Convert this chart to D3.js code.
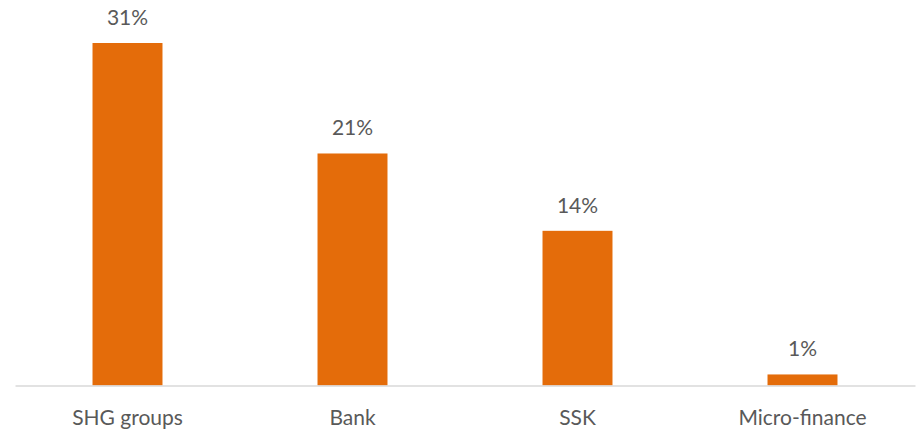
<!DOCTYPE html>
<html>
<head>
<meta charset="utf-8">
<script src="https://cdn.jsdelivr.net/npm/d3@7"></script>
<style>
  html, body { margin: 0; padding: 0; background: #ffffff; }
  svg { display: block; }
  text { font-family: Lato, "Open Sans", sans-serif; fill: #595959; }
</style>
</head>
<body>
<svg id="chart" width="916" height="433"></svg>
<script>
// Sources of credit: share of respondents
const categories = ["SHG groups", "Bank", "SSK", "Micro-finance"];
const shares = [31, 21, 14, 1];
const valueLabels = ["31%", "21%", "14%", "1%"];

const svg = d3.select("#chart");
const baseline = 385.5;
const fontSize = "21px";

const x = d3.scaleBand()
  .domain(categories)
  .range([15, 915])
  .paddingInner(0.689)
  .paddingOuter(0.3445);

const y = d3.scaleLinear()
  .domain([0, 31])
  .range([baseline, 43]);

// bars
svg.append("g")
  .selectAll("rect")
  .data(categories)
  .join("rect")
  .attr("x", d => x(d))
  .attr("width", x.bandwidth())
  .attr("y", (d, i) => y(shares[i]))
  .attr("height", (d, i) => baseline - y(shares[i]))
  .attr("fill", "#e46c0a");

// value labels
svg.append("g")
  .selectAll("text")
  .data(categories)
  .join("text")
  .attr("x", d => x(d) + x.bandwidth() / 2)
  .attr("y", (d, i) => y(shares[i]) - 18)
  .attr("text-anchor", "middle")
  .style("font-size", fontSize)
  .text((d, i) => valueLabels[i]);

// category axis
const axis = svg.append("g")
  .attr("transform", `translate(0,${baseline})`)
  .call(d3.axisBottom(x).tickSize(0).tickPadding(25));
axis.select(".domain").attr("stroke", "#d9d9d9").attr("stroke-width", 1.5);
axis.selectAll("text")
  .style("font-size", fontSize)
  .attr("fill", "#595959")
  .style("font-family", "Lato, \"Open Sans\", sans-serif");
</script>
</body>
</html>
